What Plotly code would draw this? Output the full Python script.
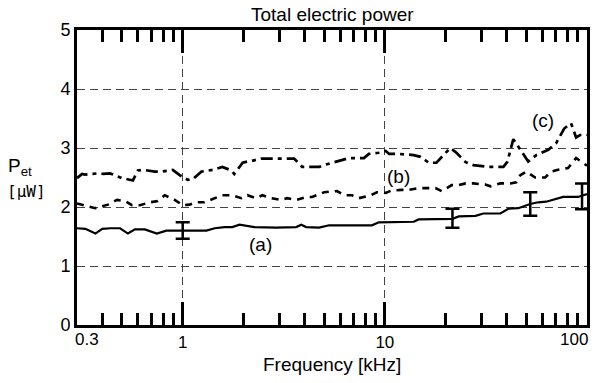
import plotly.graph_objects as go
import math

# ---- data ----
freq_a = [0.30, 0.33, 0.37, 0.40, 0.44, 0.49, 0.536, 0.58, 0.65, 0.70, 0.745, 0.83, 1.0, 1.31, 1.44,
          1.61, 1.76, 1.91, 2.26, 2.9, 3.64, 3.86, 4.08, 4.73, 5.3, 8.63, 9.34, 13.9, 14.7, 21.6,
          23.2, 28.1, 30.7, 37.3, 40.8, 45.7, 52.4, 57.4, 62.8, 71.9, 76.2, 90.3, 100]
pet_a = [1.64, 1.63, 1.55, 1.63, 1.64, 1.64, 1.55, 1.62, 1.62, 1.58, 1.55, 1.60, 1.60, 1.60, 1.64,
         1.66, 1.66, 1.70, 1.66, 1.65, 1.66, 1.70, 1.66, 1.65, 1.69, 1.69, 1.74, 1.75, 1.79, 1.80,
         1.84, 1.85, 1.89, 1.89, 1.97, 1.98, 2.05, 2.08, 2.09, 2.15, 2.17, 2.17, 2.22]

freq_b = [0.30, 0.329, 0.369, 0.427, 0.473, 0.518, 0.561, 0.614, 0.688, 0.753, 0.815, 0.913, 1.0,
          1.08, 1.17, 1.28, 1.44, 1.57, 1.74, 1.95, 2.09, 2.31, 2.48, 2.74, 3.07, 3.29, 3.64, 4.08,
          4.37, 5.01, 5.8, 6.28, 6.88, 7.44, 8.53, 9.13, 10.1, 10.8, 12.1, 13.1, 14.7, 15.9, 17.8,
          19.1, 21.4, 23.2, 25.1, 27.4, 31.4, 33.3, 37.3, 41.8, 44.7, 46.8, 50.1, 55.4, 62.1, 66.5,
          71.9, 80.6, 88.3, 100]
pet_b = [2.06, 2.02, 1.98, 2.04, 2.12, 2.10, 2.03, 2.03, 2.08, 2.10, 2.20, 2.12, 2.03,
         2.04, 2.08, 2.08, 2.15, 2.20, 2.20, 2.15, 2.20, 2.15, 2.20, 2.15, 2.12, 2.15, 2.12, 2.17,
         2.17, 2.25, 2.27, 2.20, 2.20, 2.15, 2.20, 2.25, 2.24, 2.28, 2.29, 2.29, 2.32, 2.32, 2.32,
         2.27, 2.37, 2.37, 2.40, 2.40, 2.38, 2.35, 2.40, 2.40, 2.42, 2.54, 2.60, 2.50, 2.50, 2.60,
         2.63, 2.66, 2.83, 2.70]

freq_c = [0.30, 0.318, 0.329, 0.381, 0.404, 0.437, 0.501, 0.567, 0.60, 0.635, 0.728, 0.788, 0.893,
          0.966, 1.06, 1.12, 1.24, 1.41, 1.57, 1.74, 1.80, 1.98, 2.09, 2.19, 2.45, 3.25, 3.56, 3.90,
          4.73, 5.12, 5.61, 6.65, 7.88, 8.34, 9.34, 10.1, 10.5, 11.7, 13.9, 15.0, 16.5, 18.0, 19.5,
          21.1, 22.6, 25.1, 27.4, 32.5, 38.6, 40.4, 43.2, 46.8, 51.2, 56.1, 64.3, 70.3, 77.1, 83.4,
          88.3, 92.4, 100]
pet_c = [2.49, 2.56, 2.55, 2.57, 2.56, 2.57, 2.49, 2.45, 2.62, 2.63, 2.60, 2.60, 2.63,
         2.54, 2.46, 2.47, 2.60, 2.63, 2.68, 2.62, 2.56, 2.75, 2.77, 2.78, 2.82, 2.82, 2.82, 2.68,
         2.68, 2.72, 2.76, 2.83, 2.83, 2.90, 2.92, 2.95, 2.90, 2.90, 2.88, 2.85, 2.75, 2.75, 2.88,
         3.00, 2.92, 2.76, 2.71, 2.68, 2.68, 2.77, 3.15, 2.97, 2.77, 2.88, 2.97, 3.08, 3.33, 3.42,
         3.18, 3.22, 3.22]

err_freq = [1.0, 21.6, 52.4, 94.5]
err_val = [1.60, 1.81, 2.05, 2.18]
err_size = [0.14, 0.16, 0.20, 0.22]

major_ticks = [1, 10]
minor_ticks = [0.4, 0.5, 0.6, 0.7, 0.8, 0.9, 2, 3, 4, 5, 6, 7, 8, 9,
               20, 30, 40, 50, 60, 70, 80, 90]
y_ticks = [0, 1, 2, 3, 4, 5]

FONT = "Liberation Sans, Arial, sans-serif"
PLOT_W, PLOT_H = 512, 295  # plot area size in px
TICK_SIZE = 17
LABEL_SIZE = 19

fig = go.Figure()
fig.add_trace(go.Scatter(x=freq_a, y=pet_a, mode="lines",
                         line=dict(color="black", width=2.2), showlegend=False))
fig.add_trace(go.Scatter(x=freq_b, y=pet_b, mode="lines",
                         line=dict(color="black", width=2.6, dash="7px,6px"), showlegend=False))
fig.add_trace(go.Scatter(x=freq_c, y=pet_c, mode="lines",
                         line=dict(color="black", width=2.7, dash="12px,5px,4px,5px"), showlegend=False))
fig.add_trace(go.Scatter(x=err_freq, y=err_val, mode="markers",
                         marker=dict(size=1, color="rgba(0,0,0,0)"),
                         error_y=dict(type="data", array=err_size, visible=True,
                                      color="black", thickness=2.5, width=7),
                         showlegend=False))

fig.update_layout(
    width=602, height=383,
    margin=dict(l=77, r=13, t=30, b=58),
    paper_bgcolor="white", plot_bgcolor="white",
    font=dict(family=FONT, color="black", size=16),
    xaxis=dict(type="log", range=[math.log10(0.3), 2],
               tickvals=major_ticks, ticktext=["1", "10"],
               ticks="inside", ticklen=23, tickwidth=2.5, tickcolor="black",
               showgrid=True, gridcolor="#444", gridwidth=1, griddash="8px,5px",
               showline=True, linecolor="black", linewidth=3, mirror="ticks",
               tickfont=dict(size=TICK_SIZE, family=FONT),
               minor=dict(tickvals=minor_ticks, ticks="inside", ticklen=12,
                          tickwidth=2.5, tickcolor="black", showgrid=False),
               zeroline=False),
    yaxis=dict(range=[0, 5], tickvals=y_ticks, ticks="",
               showgrid=True, gridcolor="#444", gridwidth=1, griddash="8px,5px",
               showline=True, linecolor="black", linewidth=3, mirror=True,
               tickfont=dict(size=TICK_SIZE + 1, family=FONT), zeroline=False),
)

# title
fig.add_annotation(xref="paper", yref="paper", x=0.5, y=1 + 15 / PLOT_H,
                   text="Total electric power", showarrow=False,
                   xanchor="center", yanchor="middle", font=dict(size=LABEL_SIZE, family=FONT))
# x-axis title
fig.add_annotation(xref="paper", yref="paper", x=0.5, y=-39 / PLOT_H,
                   text="Frequency [kHz]", showarrow=False,
                   xanchor="center", yanchor="middle", font=dict(size=LABEL_SIZE, family=FONT))

# edge tick labels (0.3 and 100) placed inward like the original
fig.add_annotation(x=math.log10(0.3), y=0, xref="x", yref="y", text="0.3",
                   showarrow=False, xanchor="left", yanchor="top", xshift=-4, yshift=-3,
                   font=dict(size=TICK_SIZE, family=FONT))
fig.add_annotation(x=2, y=0, xref="x", yref="y", text="100",
                   showarrow=False, xanchor="right", yanchor="top", xshift=3, yshift=-3,
                   font=dict(size=TICK_SIZE, family=FONT))

# curve labels
for txt, fx, fy in [("(a)", 2.42, 1.37), ("(b)", 11.7, 2.51), ("(c)", 60.7, 3.47)]:
    fig.add_annotation(x=math.log10(fx), y=fy, xref="x", yref="y", text=txt,
                       showarrow=False, font=dict(size=LABEL_SIZE, family=FONT))

# y-axis label
fig.add_annotation(xref="paper", yref="paper", x=(6 - 77) / PLOT_W, y=(325 - 167) / PLOT_H,
                   text="P<sub>et</sub>", showarrow=False, xanchor="left", yanchor="middle",
                   font=dict(size=LABEL_SIZE, family=FONT))
fig.add_annotation(xref="paper", yref="paper", x=(5 - 77) / PLOT_W, y=(325 - 191) / PLOT_H,
                   text="[μW]", showarrow=False, xanchor="left", yanchor="middle",
                   font=dict(size=16, family="DejaVu Sans Mono, monospace"))

fig.write_html("out.html")
